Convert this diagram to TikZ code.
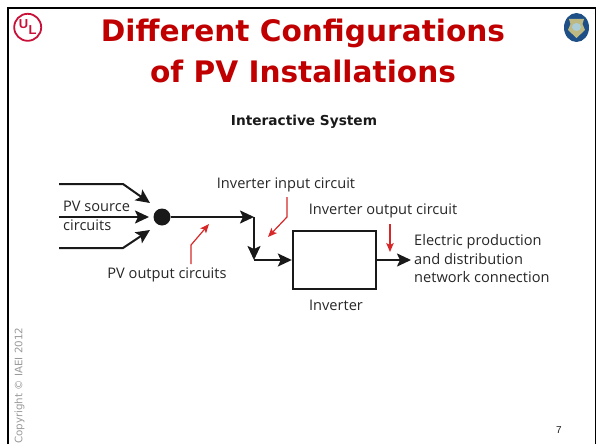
\documentclass[tikz,border=0pt]{standalone}
\usepackage{fontspec}
\usepackage{xcolor}
\setmainfont{DejaVu Sans}
\newfontfamily\labelfont{Open Sans}
\newfontfamily\slidefont{Liberation Sans}
\usetikzlibrary{arrows.meta}
\definecolor{titlered}{RGB}{192,0,0}
\definecolor{callred}{RGB}{214,40,40}
\definecolor{ulred}{RGB}{200,16,56}
\definecolor{sealblue}{RGB}{30,80,135}
\definecolor{sealtan}{RGB}{190,185,130}
\definecolor{sealpale}{RGB}{170,205,215}
\tikzset{
  wire/.style={line width=2pt, draw=black!90, -{Stealth[length=14pt,width=13pt,inset=3pt]}},
  callout/.style={line width=1.2pt, draw=callred, -{Stealth[length=9pt,width=7.5pt,inset=2pt]}},
  lbl/.style={font=\labelfont\fontsize{14.6}{17}\selectfont, text=black!85, inner sep=0pt},
  ulletter/.style={text=ulred, inner sep=0pt, font=\slidefont\bfseries\fontsize{13}{13}\selectfont},
}
\begin{document}
\begin{tikzpicture}[x=1pt,y=-1pt]
    \useasboundingbox (0,0) rectangle (596,444);
    % Frame
    \draw[line width=2.5pt] (8,444) -- (8,8) -- (596,8);
    \draw[line width=1pt] (595.5,8) -- (595.5,444);

    % Title
    \node[text=titlered, align=center, font=\bfseries\fontsize{29.6}{41}\selectfont] (title) at (303,51) {Different Configurations\\of PV Installations};
    \node[font=\bfseries\fontsize{13.7}{16}\selectfont, text=black!90] (subtitle) at (304,122) {Interactive System};

    % Logos
    \node[circle, draw=ulred, line width=1.8pt, minimum size=27pt, inner sep=0pt] (ul) at (27.7,27.3) {};
    \node[ulletter] (ulu) at (23.5,24.5) {U};
    \node[ulletter] (ull) at (32.5,30.5) {L};
    \fill[sealblue] (576.5,27.5) ellipse (12.5 and 14.5);
    \fill[sealtan] (569,19) -- (584,19) -- (582.5,24) -- (585,30) -- (576.5,38) -- (568,30) -- (570.5,24) -- cycle;
    \fill[sealpale] (576.5,27) ellipse (4.5 and 4);

    % Junction and inverter
    \node[circle, fill=black!90, minimum size=17pt, inner sep=0pt] (dot) at (162,217) {};
    \node[draw=black!90, line width=2.4pt, minimum width=83pt, minimum height=58pt, inner sep=0pt] (inverter) at (334.5,260) {};

    \coordinate (topstart) at (59,184);
    \coordinate (topbend) at (123,184);
    \coordinate (topend) at (150,203);
    \coordinate (midstart) at (59,217);
    \coordinate (midend) at (149,217);
    \coordinate (botstart) at (59,248);
    \coordinate (botbend) at (123,248);
    \coordinate (botend) at (150,230);
    \coordinate (corner) at (254,217);
    \coordinate (lower) at (254,260);
    \coordinate (outend) at (411,260);

    % Wires
    \draw[wire] (topstart) -- (topbend) -- (topend);
    \draw[wire] (midstart) -- (midend);
    \draw[wire] (botstart) -- (botbend) -- (botend);
    \draw[wire] (dot) -- (corner);
    \draw[wire] (corner) -- (lower);
    \draw[wire] (lower) -- (inverter.west);
    \draw[wire] (inverter.east) -- (outend);

    % Labels
    \node[lbl, anchor=west] (source) at (63,206) {PV source};
    \begin{scope}
        \clip (55,219) rectangle (120,230);
        \node[lbl, anchor=west] (circuits) at (63,225) {circuits};
    \end{scope}
    \node[lbl] (pvout) at (167,275) {PV output circuits};
    \node[lbl] (invin) at (286,185) {Inverter input circuit};
    \node[lbl] (invout) at (383,211) {Inverter output circuit};
    \node[lbl] (invname) at (336,305) {Inverter};
    \node[lbl, anchor=west, align=left, font=\labelfont\fontsize{14.6}{18.5}\selectfont] (network) at (414,259) {Electric production\\and distribution\\network connection};

    % Callouts
    \coordinate (pvoutbend) at (191,245);
    \coordinate (pvouttip) at (209,224);
    \coordinate (invinbend) at (287,217);
    \coordinate (invintip) at (268,237);
    \coordinate (invouttip) at (390,252);
    \draw[callout] (191,264) -- (pvoutbend) -- (pvouttip);
    \draw[callout] (287,197) -- (invinbend) -- (invintip);
    \draw[callout] (390,224) -- (invouttip);

    % Footer
    \node[rotate=90, anchor=west, text=black!40, font=\fontsize{10.3}{13}\selectfont, inner sep=0pt] (copyright) at (19.5,444) {Copyright \textcopyright\ IAEI 2012};
    \node[font=\slidefont\fontsize{10}{11}\selectfont, text=black!90, inner sep=0pt] (page) at (559,430) {7};
\end{tikzpicture}
\end{document}
